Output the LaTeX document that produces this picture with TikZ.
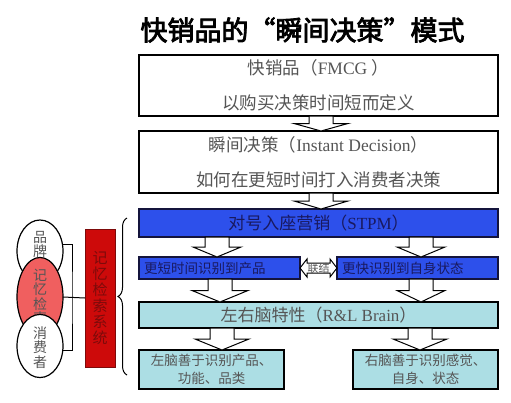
\documentclass[tikz,border=0pt]{standalone}
\usepackage{fontspec}
\setmainfont{Liberation Serif}
\newfontfamily\cjk{Noto Sans CJK SC}
\newfontfamily\cjkbold[FakeBold=3]{Noto Sans CJK SC}
\newfontfamily\lat{Liberation Serif}
\usepackage{xcolor}
\usepackage{tikz}
\usetikzlibrary{shapes.geometric}
\usetikzlibrary{positioning}
\usetikzlibrary{calc}
\usetikzlibrary{decorations.pathreplacing}

\definecolor{boxgrey}{RGB}{85,85,85}
\definecolor{navytext}{RGB}{25,25,95}
\definecolor{navyline}{RGB}{20,20,60}
\definecolor{stpmblue}{RGB}{45,80,235}
\definecolor{brainblue}{RGB}{172,222,228}
\definecolor{recallred}{RGB}{240,95,95}
\definecolor{memred}{RGB}{205,10,10}
\definecolor{memtext}{RGB}{125,10,10}

\newcommand\blockdown[4]{%
  \draw[blockarrow] let \p1=(#2.south), \p2=(#3.north), \p3=($(#2.south)!.5!(#3.north)$) in
    (#1pt-12pt,\y1) -- (#1pt-12pt,\y3) -- (#1pt-#4pt,\y3) -- (#1pt,\y2)
    -- (#1pt+#4pt,\y3) -- (#1pt+12pt,\y3) -- (#1pt+12pt,\y1) -- cycle;}

\begin{document}
\begin{tikzpicture}[x=1pt,y=-1pt,node distance=15pt]
        \tikzstyle{every node}=[outer sep=0pt,inner sep=0pt]
        \tikzstyle{bigbox}=[draw,line width=1.3pt,fill=white,minimum width=359pt,text=boxgrey,align=center,font=\cjk\fontsize{17.5}{35}\selectfont]
        \tikzstyle{stpmbox}=[draw=navyline,line width=1.2pt,fill=stpmblue,minimum width=359pt,minimum height=28pt,text=navytext,font=\cjk\fontsize{17}{20}\selectfont]
        \tikzstyle{rowbox}=[draw=navyline,line width=1.2pt,fill=stpmblue,text width=151pt,inner xsep=5pt,minimum height=22pt,align=left,text=navytext,font=\cjk\fontsize{13.5}{16}\selectfont]
        \tikzstyle{brainbox}=[draw,line width=1.2pt,fill=brainblue,minimum width=359pt,minimum height=26pt,text=boxgrey,font=\cjk\fontsize{17}{20}\selectfont]
        \tikzstyle{brainsub}=[draw,line width=1.2pt,fill=brainblue,minimum width=145pt,minimum height=39pt,align=center,text=boxgrey,font=\cjk\fontsize{13.5}{18}\selectfont]
        \tikzstyle{ellip}=[ellipse,draw,line width=1.2pt,fill=white,minimum width=46pt,minimum height=62pt,align=center,text=boxgrey,font=\cjk\fontsize{14}{14.5}\selectfont]
        \tikzstyle{memsys}=[draw=memtext,line width=0.6pt,fill=memred,minimum width=30pt,minimum height=138pt,align=center,text=memtext,font=\cjk\fontsize{15}{16}\selectfont]
        \tikzstyle{blockarrow}=[draw,line width=1pt,fill=white]
        \useasboundingbox[fill=white] (0,0) rectangle (511,402);
        \node[font=\cjkbold\fontsize{27}{27}\selectfont] (title) at (302.5,30) {快销品的“瞬间决策”模式};
        \node[bigbox,minimum height=61pt] (fmcg) at (318.5,85.5) {快销品（{\lat FMCG }）\\以购买决策时间短而定义};
        \node[bigbox,minimum height=62pt,below=15pt of fmcg] (instant) {瞬间决策（{\lat Instant Decision}）\\如何在更短时间打入消费者决策};
        \node[stpmbox,below=16pt of instant] (stpm) {对号入座营销（{\lat STPM}）};
        \node[rowbox,below right=20pt and 0pt of stpm.south west] (prod) {更短时间识别到产品};
        \node[rowbox,below left=20pt and 0pt of stpm.south east] (state) {更快识别到自身状态};
        \node[brainbox,below right=23pt and 0pt of prod.south west] (brain) {左右脑特性（{\lat R\&L Brain}）};
        \node[brainsub,below right=22pt and 0pt of brain.south west] (leftb) {左脑善于识别产品、\\功能、品类};
        \node[brainsub,below left=22pt and 0pt of brain.south east] (rightb) {右脑善于识别感觉、\\自身、状态};
        \blockdown{321}{fmcg}{instant}{27}
        \blockdown{321}{instant}{stpm}{27}
        \blockdown{217}{stpm}{prod}{24}
        \blockdown{421}{stpm}{state}{24}
        \blockdown{220}{prod}{brain}{28}
        \blockdown{421}{state}{brain}{24}
        \blockdown{222}{brain}{leftb}{27}
        \blockdown{420}{brain}{rightb}{27}
        \draw[blockarrow] let \p1=(prod.east), \p2=(state.west) in
          (\x1,\y1) -- (\x1+7pt,\y1+9pt) -- (\x1+7pt,\y1+5pt) -- (\x2-7pt,\y1+5pt) -- (\x2-7pt,\y1+9pt)
          -- (\x2,\y1) -- (\x2-7pt,\y1-9pt) -- (\x2-7pt,\y1-5pt) -- (\x1+7pt,\y1-5pt) -- (\x1+7pt,\y1-9pt) -- cycle;
        \node[text=boxgrey,font=\cjk\fontsize{11}{12}\selectfont] (link) at ($(prod.east)!.5!(state.west)$) {联结};
        \node[ellip] (brand) at (40,251) {品\\牌\\\mbox{}};
        \node[ellip,fill=recallred,minimum height=60pt] (recall) at (40,297) {记\\忆\\检\\索};
        \node[ellip,minimum height=63pt] (consumer) at (40,346) {\mbox{}\\消\\费\\者};
        \node[memsys] (memsys) at (100,298) {记\\忆\\检\\索\\系\\统};
        \coordinate (bkt) at (72,298);
        \draw[line width=1pt] (brand.17) -| (bkt) |- (consumer.-12);
        \draw[line width=1pt] (recall.east) -- (memsys.west);
        \coordinate (bracebot) at (127,375);
        \coordinate (bracetop) at (127,218);
        \draw[line width=1pt,decorate,decoration={brace,amplitude=9pt}] (bracebot) -- (bracetop);
        \tikzstyle{every node}=[]
\end{tikzpicture}
\end{document}
